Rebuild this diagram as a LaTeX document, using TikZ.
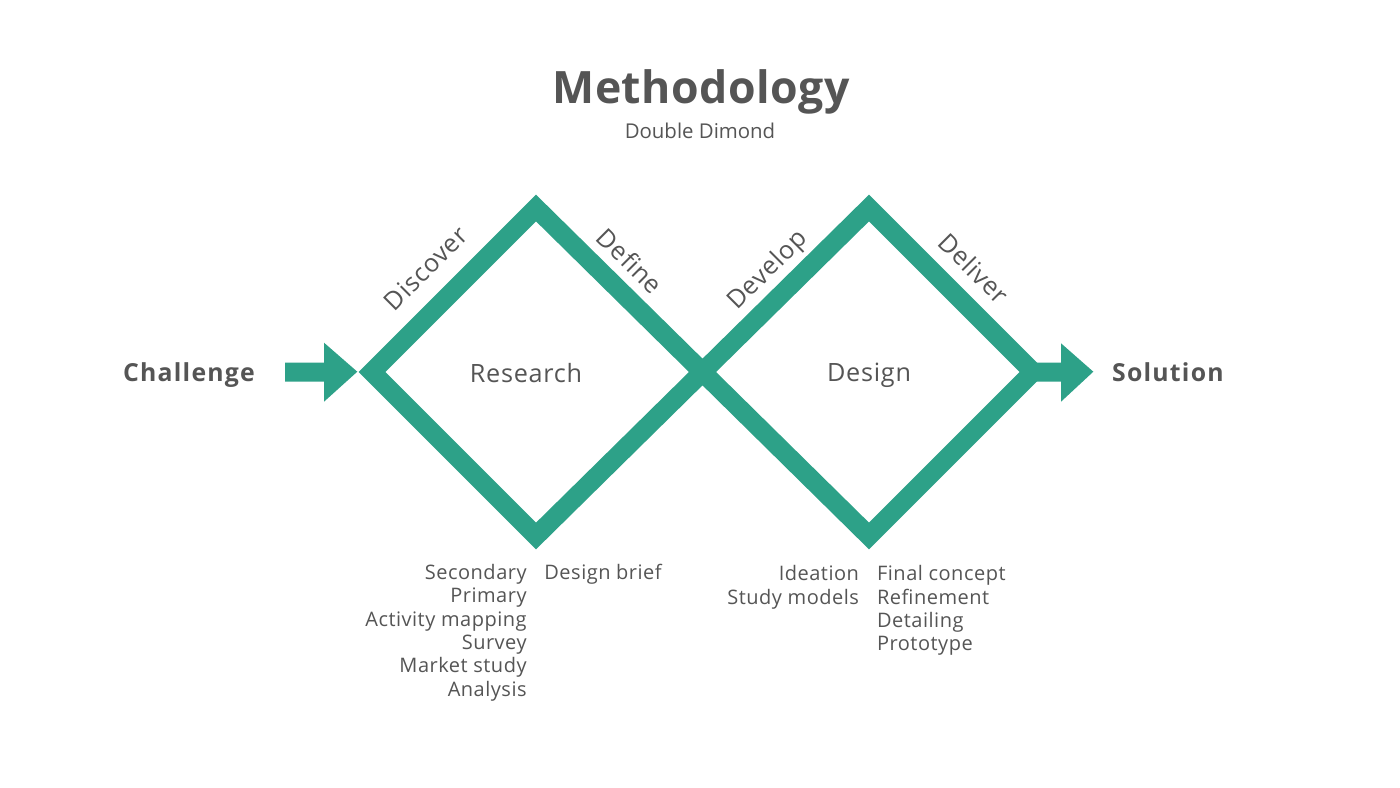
\documentclass[tikz,border=0pt]{standalone}
\usepackage{fontspec}
\setmainfont{Open Sans}
\definecolor{dgreen}{HTML}{2DA188}
\definecolor{txt}{HTML}{555555}
\tikzset{
  lbl/.style={inner sep=0pt, text=txt},
  titlefont/.style={lbl, font=\fontsize{22.3pt}{27pt}\selectfont\bfseries\addfontfeature{LetterSpace=1}},
  subfont/.style={lbl, font=\fontsize{10.2pt}{12pt}\selectfont},
  endfont/.style={lbl, font=\fontsize{12.4pt}{14pt}\selectfont\bfseries\addfontfeature{LetterSpace=5}},
  midfont/.style={lbl, font=\fontsize{12.6pt}{15pt}\selectfont\addfontfeature{LetterSpace=3}},
  listfont/.style={lbl, font=\fontsize{10pt}{11.7pt}\selectfont\addfontfeature{LetterSpace=2.5}},
  band/.style={draw=dgreen, line width=9.5pt, line join=miter, miter limit=10},
}
\begin{document}
\begin{tikzpicture}[x=0.5pt,y=-0.5pt]
\useasboundingbox (0,0) rectangle (1400,787);
\fill[white] (0,0) rectangle (1400,787);

% diamond vertices
\coordinate (L1) at (372,372);
\coordinate (T1) at (536,208);
\coordinate (B1) at (536,536);
\coordinate (X)  at (702,372);
\coordinate (T2) at (869,208);
\coordinate (B2) at (869,536);
\coordinate (R2) at (1033,372);

\draw[band] (L1) -- (T1) -- (B2) -- (R2) -- (T2) -- (B1) -- cycle;

% arrows
\fill[dgreen] (285,362.7) -- (324,362.7) -- (324,342.7) -- (357.3,371.7)
  -- (324,401.7) -- (324,381.7) -- (285,381.7) -- cycle;
\fill[dgreen] (1030,362.7) -- (1061,362.7) -- (1061,343.3) -- (1093.3,371.7)
  -- (1061,401.7) -- (1061,381.7) -- (1030,381.7) -- cycle;

% titles
\node[titlefont, anchor=base] (title) at (701,103.3) {Methodology};
\node[subfont, anchor=base] (sub) at (700,138.3) {Double Dimond};

\node[endfont, anchor=base west] (chal) at (122.7,381) {Challenge};
\node[endfont, anchor=base west] (sol) at (1111.7,381.7) {Solution};

\node[midfont, anchor=base] (res) at (526,382.3) {Research};
\node[midfont, anchor=base] (des) at (869,381) {Design};

% phase labels
\node[midfont, rotate=45] (disc) at (425.7,268.3) {Discover};
\node[midfont, rotate=-45] (defi) at (630,260.7) {Define};
\node[midfont, rotate=45] (devl) at (768.3,270.7) {Develop};
\node[midfont, rotate=-45] (deli) at (974,268.3) {Deliver};

% lists
\node[listfont, anchor=base east] (a1) at (527,579.3) {Secondary};
\node[listfont, anchor=base east] (a2) at (527,602.7) {Primary};
\node[listfont, anchor=base east] (a3) at (527,626.1) {Activity mapping};
\node[listfont, anchor=base east] (a4) at (527,649.5) {Survey};
\node[listfont, anchor=base east] (a5) at (527,672.9) {Market study};
\node[listfont, anchor=base east] (a6) at (527,696.3) {Analysis};

\node[listfont, anchor=base west] (b1) at (544,579.3) {Design brief};

\node[listfont, anchor=base east] (c1) at (859.3,580.7) {Ideation};
\node[listfont, anchor=base east] (c2) at (859.3,604) {Study models};

\node[listfont, anchor=base west] (d1) at (876.7,580.7) {Final concept};
\node[listfont, anchor=base west] (d2) at (876.7,604) {Refinement};
\node[listfont, anchor=base west] (d3) at (876.7,627.3) {Detailing};
\node[listfont, anchor=base west] (d4) at (876.7,650.7) {Prototype};
\end{tikzpicture}
\end{document}
